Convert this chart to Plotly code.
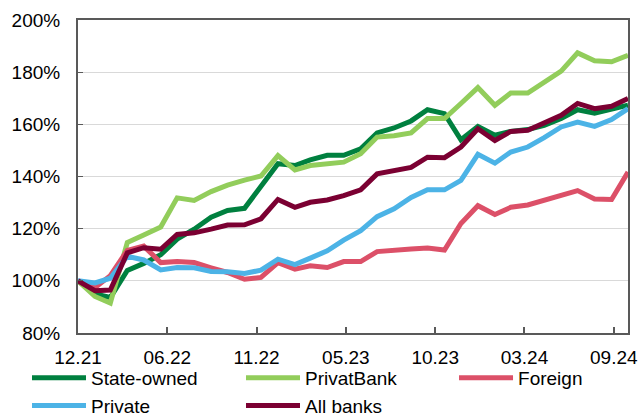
import pandas as pd
import plotly.graph_objects as go

dates = pd.date_range("2021-12-31", periods=34, freq="ME")

state_owned = [100, 95, 93.6, 104, 106.7, 110, 116, 119.8, 124.4, 127, 127.8, 136,
               144.9, 144.2, 146.4, 148.1, 148.1, 150.6, 156.7, 158.6, 161.3, 165.6,
               164.1, 154.1, 159.2, 155.8, 157.3, 158, 159.6, 162.2, 165.6, 164.3, 166, 167.3]
privatbank = [100, 94, 91.5, 114.7, 117.6, 120.6, 131.8, 130.8, 134.2, 136.7, 138.6, 140.2,
              148, 142.5, 144.2, 144.7, 145.5, 148.7, 155.1, 155.6, 156.7, 162.2,
              162.2, 168, 174.1, 167.3, 172, 172, 176.3, 180.4, 187.4, 184.4, 184, 186.5]
foreign = [100, 97.4, 102, 111.7, 113.3, 107, 107.4, 107, 105, 103.2, 100.6, 101.3,
           107, 104.5, 105.8, 105.1, 107.4, 107.4, 111.2, 111.5, 112.2, 112.6,
           111.8, 122, 128.8, 125.4, 128.2, 129.1, 131, 132.7, 134.6, 131.4, 131.2, 141.7]
private = [100, 99.2, 101, 109.4, 108, 104.2, 105.1, 105, 103.6, 103.5, 102.8, 104.1,
           108.3, 106.2, 108.7, 111.5, 115.6, 119.2, 124.6, 127.6, 132, 134.9,
           134.9, 138.5, 148.5, 145.1, 149.4, 151.3, 154.9, 159, 160.9, 159.2, 161.8, 166]
all_banks = [100, 96.2, 96.5, 110.7, 112.7, 112.1, 117.8, 118.4, 119.8, 121.4, 121.5, 123.8,
             131.2, 128.2, 130.1, 131, 132.7, 134.9, 141, 142.3, 143.5, 147.4,
             147.2, 151.3, 158.3, 153.8, 157.3, 157.7, 160.3, 163.5, 168, 166, 166.9, 169.9]

series_names = ["State-owned", "PrivatBank", "Foreign", "Private", "All banks"]
series_values = [state_owned, privatbank, foreign, private, all_banks]
colors = ["#00803F", "#92CD5B", "#DC5068", "#4CB3E6", "#7B0032"]
legend_ids = ["legend", "legend2", "legend3", "legend", "legend2"]

y_ticks = [80, 100, 120, 140, 160, 180, 200]
y_tick_labels = [f"{v}%" for v in y_ticks]

FONT = "Liberation Sans, Arial, sans-serif"

fig = go.Figure()
for name, vals, col, lg in zip(series_names, series_values, colors, legend_ids):
    fig.add_trace(go.Scatter(x=dates, y=vals, name=name, mode="lines", legend=lg,
                             line=dict(color=col, width=5)))

legend_common = dict(orientation="v", xref="container", yref="container",
                     xanchor="left", yanchor="top", itemwidth=54,
                     font=dict(family=FONT, size=19, color="#000000"),
                     bgcolor="rgba(0,0,0,0)", tracegroupgap=0)

fig.update_layout(
    width=643, height=414,
    margin=dict(l=78, r=15, t=20, b=81, autoexpand=False),
    paper_bgcolor="white", plot_bgcolor="white",
    font=dict(family=FONT, size=19, color="#000000"),
    showlegend=True,
    legend=dict(x=0.042, y=0.1328, **legend_common),
    legend2=dict(x=0.3748, y=0.1328, **legend_common),
    legend3=dict(x=0.7061, y=0.1328, **legend_common),
)
fig.update_xaxes(
    type="date", range=[dates[0], dates[-1]],
    tick0=dates[0], dtick=163 * 86400000, tickformat="%m.%y",
    showgrid=False, showline=True, linecolor="#595959", linewidth=2, mirror=True,
    ticks="inside", ticklen=6, tickwidth=2, tickcolor="#595959",
    ticklabelstandoff=6, zeroline=False,
)
fig.update_yaxes(
    range=[80, 200], tickvals=y_ticks, ticktext=y_tick_labels,
    showgrid=True, gridcolor="#D9D9D9", gridwidth=1,
    showline=True, linecolor="#595959", linewidth=2, mirror=True,
    ticks="inside", ticklen=5, tickwidth=1, tickcolor="#595959",
    ticklabelstandoff=12, zeroline=False,
)

fig.write_html("out.html", config={"displayModeBar": False},
               post_script="document.body.style.margin='0';")
